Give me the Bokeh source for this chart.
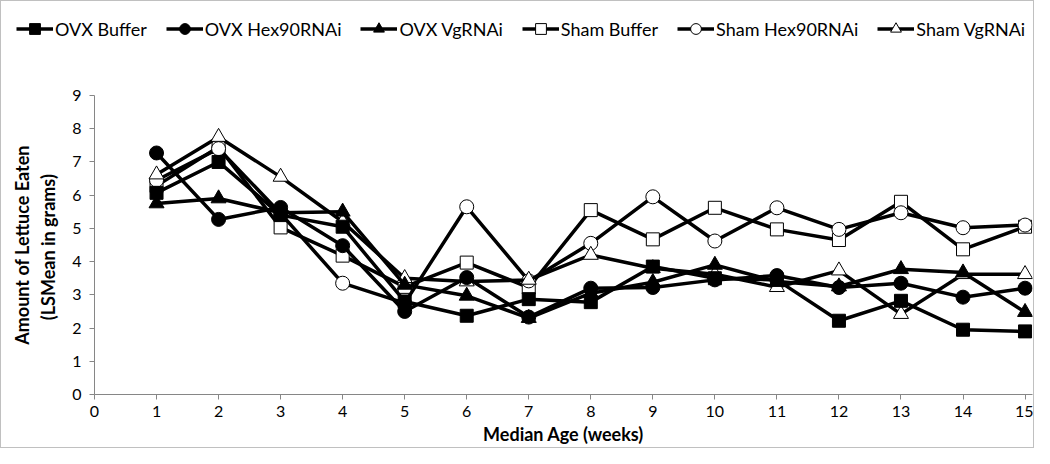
from bokeh.plotting import figure
from bokeh.layouts import column
from bokeh.models import Legend, LegendItem, FixedTicker, Range1d
from bokeh.embed import file_html
from bokeh.resources import INLINE

weeks = list(range(1, 16))
ovx_buffer = [6.07, 7.0, 5.4, 5.05, 2.8, 2.37, 2.87, 2.78, 3.85, 3.5, 3.45, 2.22, 2.82, 1.95, 1.9]
ovx_hex90 = [7.27, 5.27, 5.63, 4.48, 2.5, 3.52, 2.33, 3.2, 3.22, 3.45, 3.58, 3.22, 3.35, 2.93, 3.2]
ovx_vg = [5.75, 5.9, 5.47, 5.5, 3.3, 2.97, 2.3, 3.05, 3.38, 3.9, 3.4, 3.25, 3.77, 3.67, 2.48]
sham_buffer = [6.28, 7.45, 5.03, 4.18, 3.24, 3.97, 3.22, 5.55, 4.67, 5.62, 4.97, 4.65, 5.8, 4.37, 5.05]
sham_hex90 = [6.45, 7.4, 5.45, 3.35, 2.75, 5.65, 3.42, 4.55, 5.95, 4.62, 5.62, 4.97, 5.47, 5.02, 5.1]
sham_vg = [6.62, 7.75, 6.55, 5.2, 3.5, 3.4, 3.45, 4.2, 3.8, 3.62, 3.23, 3.73, 2.42, 3.62, 3.62]

names = ["OVX Buffer", "OVX Hex90RNAi", "OVX VgRNAi", "Sham Buffer", "Sham Hex90RNAi", "Sham VgRNAi"]
values = [ovx_buffer, ovx_hex90, ovx_vg, sham_buffer, sham_hex90, sham_vg]
markers = ["square", "circle", "triangle", "square", "circle", "triangle"]
fills = ["black", "black", "black", "white", "white", "white"]
sizes = [13, 14, 15, 13, 14, 15]

x_ticks = list(range(0, 16))
y_ticks = list(range(0, 10))

FONT = "Lato"
W = 1032
LEG_H = 44
MAIN_H = 446 - LEG_H

# main chart
p = figure(width=W, height=MAIN_H, output_backend="svg", toolbar_location=None,
           x_range=Range1d(0, 15.12), y_range=Range1d(0, 9),
           min_border_left=93, min_border_right=1, min_border_top=50, min_border_bottom=51,
           background_fill_color="white", border_fill_color="white")
p.frame_align = False
p.outline_line_color = None
p.grid.visible = False

# Sham series drawn first, OVX on top (as in the reference)
renderers = {}
for idx in [3, 4, 5, 0, 1, 2]:
    lr = p.line(weeks, values[idx], line_color="black", line_width=3.5)
    sr = p.scatter(weeks, values[idx], marker=markers[idx], size=sizes[idx],
                   fill_color=fills[idx], line_color="black", line_width=1)
    renderers[idx] = (lr, sr)

# legend strip on top (frame spans the whole strip)
lf = figure(width=W, height=LEG_H, output_backend="svg", toolbar_location=None,
            x_range=Range1d(0, 1), y_range=Range1d(0, 1),
            min_border_left=0, min_border_right=0, min_border_top=0, min_border_bottom=0,
            background_fill_color="white", border_fill_color="white")
lf.frame_align = False
lf.axis.visible = False
lf.grid.visible = False
lf.outline_line_color = None

items = []
for i in range(6):
    dl = lf.line([0.5, 0.5], [-5, -5], line_color="black", line_width=3.5)
    ds = lf.scatter([0.5], [-5], marker=markers[i], size=sizes[i],
                    fill_color=fills[i], line_color="black", line_width=1)
    items.append(LegendItem(label=names[i], renderers=[dl, ds]))

legend = Legend(items=items, orientation="horizontal", location=(15, 3),
                glyph_width=37, glyph_height=27, label_height=27,
                label_standoff=2, spacing=19, padding=0, margin=0,
                border_line_color=None, background_fill_alpha=0,
                label_text_font=FONT, label_text_font_size="18px",
                label_text_color="black")
lf.add_layout(legend, "center")

for ax in (p.xaxis, p.yaxis):
    ax.axis_line_color = "#868686"
    ax.axis_line_width = 1
    ax.major_tick_line_color = "#868686"
    ax.major_tick_in = 0
    ax.major_tick_out = 5
    ax.minor_tick_line_color = None
    ax.major_label_text_font = FONT
    ax.major_label_text_font_size = "16px"
    ax.major_label_text_color = "black"
    ax.axis_label_text_font = FONT
    ax.axis_label_text_font_style = "bold"
    ax.axis_label_text_font_size = "18px"
    ax.axis_label_text_color = "black"

p.xaxis.ticker = FixedTicker(ticks=x_ticks)
p.yaxis.ticker = FixedTicker(ticks=y_ticks)
p.xaxis.major_label_standoff = 6
p.yaxis.major_label_standoff = 8
p.xaxis.axis_label = "Median Age (weeks)"
p.yaxis.axis_label = "Amount of Lettuce Eaten\n(LSMean  in grams)"
p.xaxis.axis_label_standoff = 3
p.yaxis.axis_label_standoff = 10

layout = column(lf, p, spacing=0)
layout.styles = {"border": "1px solid #c0c0c0"}
open("out.html", "w").write(file_html(layout, INLINE))
